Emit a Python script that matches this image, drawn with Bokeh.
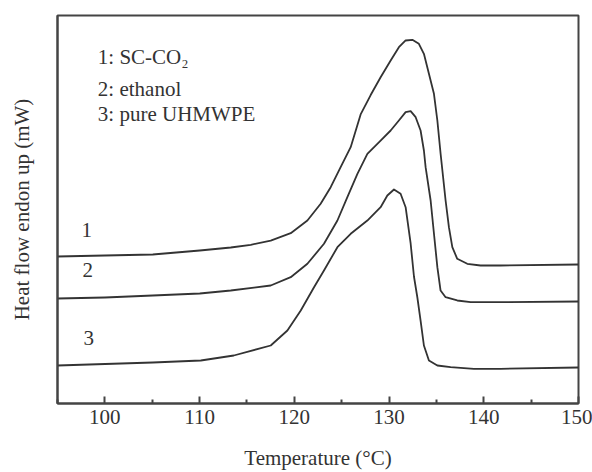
from bokeh.plotting import figure
from bokeh.models import Range1d, FixedTicker
from bokeh.core.properties import value
from bokeh.embed import file_html
from bokeh.resources import INLINE

# Temperature (°C) and heat flow (arbitrary units, curves stacked)
t1 = [95.0, 100.0, 105.06, 110.02, 113.29, 115.40, 117.51, 119.62, 121.38, 122.78, 123.84, 124.89,
      125.95, 127.00, 128.06, 129.11, 130.17, 131.04, 131.75, 132.46, 133.15, 133.68, 134.21, 134.74,
      135.10, 135.44, 135.97, 136.32, 136.68, 137.20, 138.26, 139.66, 141.77, 150.0]
y1 = [37.89, 38.14, 38.40, 39.43, 40.21, 40.90, 42.00, 43.90, 47.16, 51.47, 55.75, 60.90,
      66.06, 74.50, 79.50, 84.10, 88.40, 91.83, 93.56, 93.74, 92.71, 90.13, 84.97, 79.82,
      72.94, 64.43, 52.32, 45.44, 40.28, 37.29, 36.01, 35.57, 35.57, 35.82]

t2 = [95.0, 100.0, 105.06, 110.02, 113.29, 117.51, 119.62, 121.38, 123.13, 124.55, 125.60, 126.66,
      127.71, 129.11, 130.17, 131.04, 131.75, 132.28, 132.81, 133.33, 133.68, 133.86, 134.39, 134.74,
      135.10, 135.44, 135.97, 137.20, 138.61, 141.77, 150.0]
y2 = [27.06, 27.32, 27.84, 28.35, 29.12, 30.41, 32.55, 36.01, 41.16, 47.16, 53.17, 59.20,
      64.36, 67.78, 70.36, 72.94, 75.08, 75.34, 73.79, 70.36, 65.21, 60.90, 52.32, 43.81,
      35.13, 29.12, 27.40, 26.55, 26.11, 26.11, 26.29]

t3 = [95.0, 105.06, 110.13, 113.61, 117.51, 119.27, 120.68, 122.08, 123.13, 124.55, 125.95, 127.71,
      129.11, 129.82, 130.52, 131.22, 131.75, 132.28, 132.63, 132.99, 133.33, 133.68, 134.21, 135.10,
      136.50, 138.96, 141.77, 150.0]
y3 = [9.79, 10.57, 11.08, 12.37, 14.95, 18.81, 23.97, 29.97, 34.28, 40.28, 43.74, 47.16,
      50.59, 53.61, 55.15, 54.05, 50.59, 41.24, 32.73, 27.32, 21.39, 14.95, 11.08, 9.79,
      9.36, 8.94, 8.94, 9.28]

x_ticks = [100, 110, 120, 130, 140, 150]
x_minor = [95, 105, 115, 125, 135, 145]

curve_names = ["1", "2", "3"]
curve_name_x = [98.1, 98.2, 98.3]
curve_name_y = [44.8, 34.5, 17.0]

legend_texts = ["1: SC-CO\u2082", "2: ethanol", "3: pure UHMWPE"]
legend_x = [99.26, 99.26, 99.26]
legend_y = [89.18, 80.93, 74.74]

FONT = "Liberation Serif"
INK = "#333333"
FRAME = "#444444"

p = figure(width=592, height=472, output_backend="svg", toolbar_location=None,
           x_range=Range1d(95, 150), y_range=Range1d(0, 100),
           min_border_left=57, min_border_right=14, min_border_top=15, min_border_bottom=69)
p.grid.visible = False
p.outline_line_color = FRAME
p.outline_line_width = 2
p.background_fill_color = "white"
p.border_fill_color = "white"

for t, y in ((t1, y1), (t2, y2), (t3, y3)):
    p.line(t, y, line_color=INK, line_width=1.8, line_join="round")

p.text(x=curve_name_x, y=curve_name_y, text=curve_names,
       text_font=value(FONT), text_font_size="21px", text_color=INK,
       text_align="center", text_baseline="middle")
p.text(x=legend_x, y=legend_y, text=legend_texts,
       text_font=value(FONT), text_font_size="21px", text_color=INK,
       text_align="left", text_baseline="alphabetic")

xa = p.xaxis[0]
xa.ticker = FixedTicker(ticks=x_ticks, minor_ticks=x_minor)
xa.major_tick_in = 7
xa.major_tick_out = 0
xa.minor_tick_in = 4
xa.minor_tick_out = 0
xa.major_tick_line_color = FRAME
xa.minor_tick_line_color = FRAME
xa.major_tick_line_width = 2
xa.minor_tick_line_width = 2
xa.axis_line_color = FRAME
xa.axis_line_width = 2
xa.major_label_text_font = FONT
xa.major_label_text_font_size = "21px"
xa.major_label_text_color = INK
xa.major_label_standoff = 6
xa.axis_label = "Temperature (\u00b0C)"
xa.axis_label_text_font = FONT
xa.axis_label_text_font_size = "21px"
xa.axis_label_text_font_style = "normal"
xa.axis_label_text_color = INK
xa.axis_label_standoff = 19

ya = p.yaxis[0]
ya.ticker = FixedTicker(ticks=[])
ya.major_tick_in = 0
ya.major_tick_out = 0
ya.minor_tick_in = 0
ya.minor_tick_out = 0
ya.axis_line_color = FRAME
ya.axis_line_width = 2
ya.axis_label = "Heat flow endon up (mW)"
ya.axis_label_text_font = FONT
ya.axis_label_text_font_size = "21px"
ya.axis_label_text_font_style = "normal"
ya.axis_label_text_color = INK
ya.axis_label_standoff = 24

open("out.html", "w").write(file_html(p, INLINE))
